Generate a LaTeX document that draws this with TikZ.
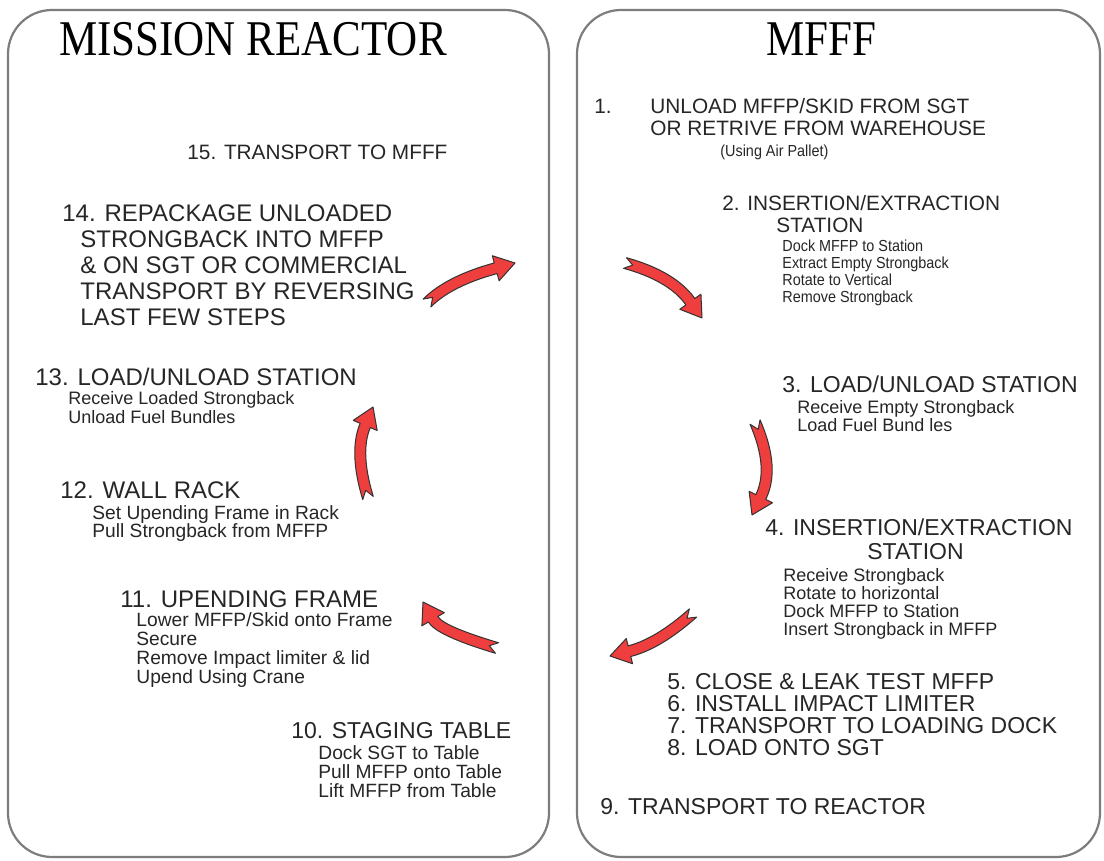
\documentclass[tikz,border=0pt]{standalone}
\usepackage{fontspec}
\setmainfont{Liberation Serif}
\newfontfamily\headfont[FakeStretch=0.86]{Liberation Serif}
\newfontfamily\arialfont{Liberation Sans}
\newfontfamily\narrowfont[FakeStretch=0.9]{Liberation Sans}
\usetikzlibrary{calc}
\definecolor{arrowred}{RGB}{238,62,62}
\definecolor{panelgray}{RGB}{125,125,125}

\begin{document}
\begin{tikzpicture}[x=0.5pt, y=-0.5pt]
        % ================= 样式定义 =================
        \tikzset{
            % 圆角面板
            panel/.style={draw=panelgray, line width=1.1pt, rounded corners=22pt},
            % 大标题 (衬线体)
            heading/.style={font=\headfont\fontsize{25}{28}\selectfont, anchor=base, inner sep=0pt},
            % 步骤主行 (三种字号)
            stepline/.style={font=\arialfont\fontsize{10.4}{12}\selectfont, anchor=base west, inner sep=0pt, text=black!85},
            midstep/.style={stepline, font=\arialfont\fontsize{11.5}{13}\selectfont},
            bigstep/.style={stepline, font=\arialfont\fontsize{12}{14}\selectfont},
            % 说明小字
            subline/.style={font=\narrowfont\fontsize{8}{9}\selectfont, anchor=base west, inner sep=0pt, text=black!85},
            midsub/.style={subline, font=\arialfont\fontsize{9}{10}\selectfont},
            bigsub/.style={subline, font=\arialfont\fontsize{9.6}{11}\selectfont},
            % 红色弯箭头
            cyclearrow/.style={fill=arrowred, draw=black!80, line width=0.5pt, line join=round}
        }

        \fill[white] (0,0) rectangle (1104,861);
        \useasboundingbox (0,0) rectangle (1104,861);

        % ================= 两个面板 =================
        \draw[panel] (8,10) rectangle (549,857);
        \draw[panel] (577,10) rectangle (1100,857);

        % ================= 左:MISSION REACTOR =================
        \node[heading] (mrtitle) at (253,56) {MISSION REACTOR};
        \node[stepline] (l15) at (187,160) {15. TRANSPORT TO MFFF};

        \node[bigstep] (l14) at (62,222) {14. REPACKAGE UNLOADED};
        \foreach \txt [count=\i] in {STRONGBACK INTO MFFP, \& ON SGT OR COMMERCIAL, TRANSPORT BY REVERSING, LAST FEW STEPS}
            \node[bigstep] (l14s\i) at (80,222+26*\i) {\txt};

        \node[bigstep] (l13) at (35,386) {13. LOAD/UNLOAD STATION};
        \foreach \txt [count=\i] in {Receive Loaded Strongback, Unload Fuel Bundles}
            \node[midsub] (l13s\i) at (68,387+18*\i) {\txt};

        \node[bigstep] (l12) at (60,498) {12. WALL RACK};
        \foreach \txt [count=\i] in {Set Upending Frame in Rack, Pull Strongback from MFFP}
            \node[bigsub] (l12s\i) at (92,500+19*\i) {\txt};

        \node[bigstep] (l11) at (120,607) {11. UPENDING FRAME};
        \foreach \txt [count=\i] in {Lower MFFP/Skid onto Frame, Secure, Remove Impact limiter \& lid, Upend Using Crane}
            \node[bigsub] (l11s\i) at (136,607+19*\i) {\txt};

        \node[midstep] (l10) at (291,738) {10. STAGING TABLE};
        \foreach \txt [count=\i] in {Dock SGT to Table, Pull MFFP onto Table, Lift MFFP from Table}
            \node[bigsub] (l10s\i) at (318,740+19*\i) {\txt};

        % ================= 右:MFFF =================
        \node[heading] (mftitle) at (821,56) {MFFF};

        \node[stepline] (r1n) at (594,114) {1.};
        \node[stepline] (r1) at (650,114) {UNLOAD MFFP/SKID FROM SGT};
        \node[stepline] (r1b) at (650,136) {OR RETRIVE FROM WAREHOUSE};
        \node[subline] (r1c) at (720,157) {(Using Air Pallet)};

        \node[stepline] (r2) at (722,211) {2. INSERTION/EXTRACTION};
        \node[stepline] (r2b) at (776,233) {STATION};
        \foreach \txt [count=\i] in {Dock MFFP to Station, Extract Empty Strongback, Rotate to Vertical, Remove Strongback}
            \node[subline] (r2s\i) at (782,235+17*\i) {\txt};

        \node[midstep] (r3) at (782,393) {3. LOAD/UNLOAD STATION};
        \foreach \txt [count=\i] in {Receive Empty Strongback, Load Fuel Bund les}
            \node[midsub] (r3s\i) at (797,397+17*\i) {\txt};

        \node[midstep] (r4) at (765,535) {4. INSERTION/EXTRACTION};
        \node[midstep] (r4b) at (867,559) {STATION};
        \foreach \txt [count=\i] in {Receive Strongback, Rotate to horizontal, Dock MFFP to Station, Insert Strongback in MFFP}
            \node[midsub] (r4s\i) at (783,563+18*\i) {\txt};

        \foreach \txt [count=\i] in {5. CLOSE \& LEAK TEST MFFP, 6. INSTALL IMPACT LIMITER, 7. TRANSPORT TO LOADING DOCK, 8. LOAD ONTO SGT}
            \node[midstep] (r58s\i) at (667,667+22*\i) {\txt};

        \node[midstep] (r9) at (600,814) {9. TRANSPORT TO REACTOR};

        % ================= 红色循环箭头 (尾, 控制点, 箭尖) =================
        \foreach \ta/\cb/\pc in {{427,303}/{449,281}/{515,263}, {625,263}/{672,276}/{702,318},
                                 {368,498}/{354,452}/{373,407}, {755,422}/{775,468}/{752,515},
                                 {497,648}/{440,631}/{423,602}, {693,613}/{658,644}/{610,656}} {
            \coordinate (T) at (\ta);
            \coordinate (C) at (\cb);
            \coordinate (P) at (\pc);
            \coordinate (B) at ($(P)!10pt!(C)$);
            % 箭身两侧
            \coordinate (TL) at ($(T)!2.75pt!90:(C)$);
            \coordinate (TR) at ($(T)!2.75pt!-90:(C)$);
            \coordinate (BL) at ($(B)!2.75pt!-90:(C)$);
            \coordinate (BR) at ($(B)!2.75pt!90:(C)$);
            \coordinate (TLc) at ($(TL)+(C)-(T)$);
            \coordinate (TRc) at ($(TR)+(C)-(T)$);
            \coordinate (BLc) at ($(BL)+(C)-(B)$);
            \coordinate (BRc) at ($(BR)+(C)-(B)$);
            \coordinate (CL) at (intersection of TL--TLc and BL--BLc);
            \coordinate (CR) at (intersection of TR--TRc and BR--BRc);
            % 箭头与尾部缺口
            \coordinate (HL) at ($(B)!6.5pt!-90:(C)$);
            \coordinate (HR) at ($(B)!6.5pt!90:(C)$);
            \coordinate (N) at ($(T)!4pt!(C)$);
            \filldraw[cyclearrow] (N) -- (TL)
                .. controls ($(TL)!.667!(CL)$) and ($(BL)!.667!(CL)$) .. (BL)
                -- (HL) -- (P) -- (HR) -- (BR)
                .. controls ($(BR)!.667!(CR)$) and ($(TR)!.667!(CR)$) .. (TR) -- cycle;
        }

    \end{tikzpicture}
\end{document}
